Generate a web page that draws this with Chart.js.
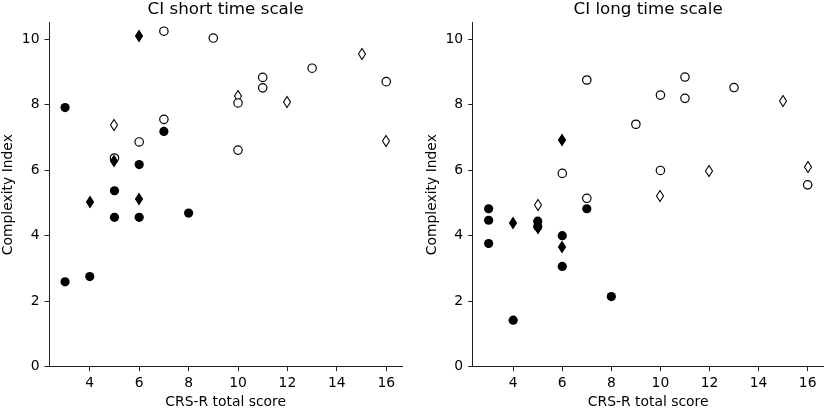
<!DOCTYPE html>
<html>
<head>
<meta charset="utf-8">
<script src="https://cdn.jsdelivr.net/npm/chart.js@4.4.0/dist/chart.umd.min.js"></script>
<style>
  html, body { margin: 0; padding: 0; background: #fff; }
  #wrap { display: flex; width: 829px; height: 409px; }
  canvas { display: block; }
</style>
</head>
<body>
<div id="wrap">
  <canvas id="left" width="415" height="409"></canvas>
  <canvas id="right" width="414" height="409"></canvas>
</div>
<script>
// tick labels
const xTicks = [4, 6, 8, 10, 12, 14, 16];
const yTicks = [0, 2, 4, 6, 8, 10];

// CI short time scale
const shortFilledCircleX = [3, 3, 4, 5, 5, 6, 6, 7, 8];
const shortFilledCircleY = [7.91, 2.59, 2.75, 5.37, 4.56, 6.17, 4.56, 7.18, 4.69];
const shortFilledDiamondX = [4, 5, 6, 6];
const shortFilledDiamondY = [5.02, 6.28, 10.09, 5.12];
const shortOpenCircleX = [5, 6, 7, 7, 9, 10, 10, 11, 11, 13, 16];
const shortOpenCircleY = [6.37, 6.86, 10.24, 7.55, 10.03, 8.05, 6.61, 8.83, 8.51, 9.11, 8.70];
const shortOpenDiamondX = [5, 10, 12, 15, 16];
const shortOpenDiamondY = [7.37, 8.26, 8.09, 9.55, 6.89];

// CI long time scale
const longFilledCircleX = [3, 3, 3, 4, 5, 5, 6, 6, 7, 8];
const longFilledCircleY = [4.82, 4.47, 3.76, 1.42, 4.44, 4.28, 4.00, 3.06, 4.82, 2.14];
const longFilledDiamondX = [4, 5, 6, 6];
const longFilledDiamondY = [4.40, 4.24, 6.92, 3.64];
const longOpenCircleX = [6, 7, 7, 9, 10, 10, 11, 11, 13, 16];
const longOpenCircleY = [5.90, 8.75, 5.14, 7.40, 8.29, 5.99, 8.84, 8.19, 8.52, 5.55];
const longOpenDiamondX = [5, 10, 12, 15, 16];
const longOpenDiamondY = [4.92, 5.22, 5.96, 8.11, 6.08];

const FONT = 'DejaVu Sans';

function pts(xs, ys) {
  return xs.map((x, i) => ({ x: x, y: ys[i] }));
}

// thin diamond marker, like matplotlib 'd'
function diamondImage(filled) {
  const c = document.createElement('canvas');
  c.width = 10; c.height = 14;
  const g = c.getContext('2d');
  g.beginPath();
  g.moveTo(5, 1.5);
  g.lineTo(8.5, 7);
  g.lineTo(5, 12.5);
  g.lineTo(1.5, 7);
  g.closePath();
  g.fillStyle = filled ? '#000' : '#fff';
  g.fill();
  g.strokeStyle = '#000';
  g.lineWidth = 1.1;
  g.stroke();
  return c;
}
const filledDiamond = diamondImage(true);
const openDiamond = diamondImage(false);

// keep image markers crisp
const crisp = {
  id: 'crisp',
  beforeDatasetsDraw(chart) { chart.ctx.imageSmoothingEnabled = false; }
};

function makeChart(id, title, s, leftW, rightPad, yTitlePad) {
  const datasets = [
    { data: pts(s.fdx, s.fdy), pointStyle: filledDiamond },
    { data: pts(s.ocx, s.ocy), pointStyle: 'circle', pointRadius: 4.2, pointBackgroundColor: '#fff', pointBorderColor: '#000', pointBorderWidth: 1.2 },
    { data: pts(s.odx, s.ody), pointStyle: openDiamond },
    { data: pts(s.fcx, s.fcy), pointStyle: 'circle', pointRadius: 4.6, pointBackgroundColor: '#000', pointBorderColor: '#000', pointBorderWidth: 0 }
  ];
  datasets.forEach(d => { d.showLine = false; });

  const tickFont = { family: FONT, size: 13.9 };
  new Chart(document.getElementById(id), {
    type: 'scatter',
    data: { datasets: datasets },
    plugins: [crisp],
    options: {
      responsive: false,
      animation: false,
      devicePixelRatio: 1,
      layout: { padding: { left: 0, right: rightPad, top: 0, bottom: 0 } },
      plugins: {
        legend: { display: false },
        tooltip: { enabled: false },
        title: {
          display: true, text: title, fullSize: false, color: '#000',
          font: { family: FONT, size: 16.7, weight: 'normal', lineHeight: 1.1 },
          padding: { top: 0, bottom: 4.3 }
        }
      },
      scales: {
        x: {
          type: 'linear', min: 2.35, max: 16.65,
          afterBuildTicks: sc => { sc.ticks = xTicks.map(v => ({ value: v })); },
          afterFit: sc => { sc.height = 42.3; },
          grid: { drawOnChartArea: false, tickLength: 4.5, tickColor: '#222', lineWidth: 1 },
          border: { color: '#222', width: 1 },
          ticks: { color: '#000', font: tickFont, padding: 4, maxRotation: 0 },
          title: { display: true, text: 'CRS-R total score', color: '#000', font: { family: FONT, size: 13.9, lineHeight: 1.0 }, padding: { top: 0, bottom: 0 } }
        },
        y: {
          type: 'linear', min: 0, max: 10.5,
          afterBuildTicks: sc => { sc.ticks = yTicks.map(v => ({ value: v })); },
          afterFit: sc => { sc.width = leftW; },
          grid: { drawOnChartArea: false, tickLength: 4.5, tickColor: '#222', lineWidth: 1 },
          border: { color: '#222', width: 1 },
          ticks: { color: '#000', font: tickFont, padding: 5 },
          title: { display: true, text: 'Complexity Index', color: '#000', font: tickFont, padding: { top: yTitlePad, bottom: 0 } }
        }
      }
    }
  });
}

makeChart('left', 'CI short time scale', {
  fcx: shortFilledCircleX, fcy: shortFilledCircleY,
  fdx: shortFilledDiamondX, fdy: shortFilledDiamondY,
  ocx: shortOpenCircleX, ocy: shortOpenCircleY,
  odx: shortOpenDiamondX, ody: shortOpenDiamondY
}, 49, 12.7, 0.5);

makeChart('right', 'CI long time scale', {
  fcx: longFilledCircleX, fcy: longFilledCircleY,
  fdx: longFilledDiamondX, fdy: longFilledDiamondY,
  ocx: longOpenCircleX, ocy: longOpenCircleY,
  odx: longOpenDiamondX, ody: longOpenDiamondY
}, 57.7, 3.7, 9.5);
</script>
</body>
</html>
